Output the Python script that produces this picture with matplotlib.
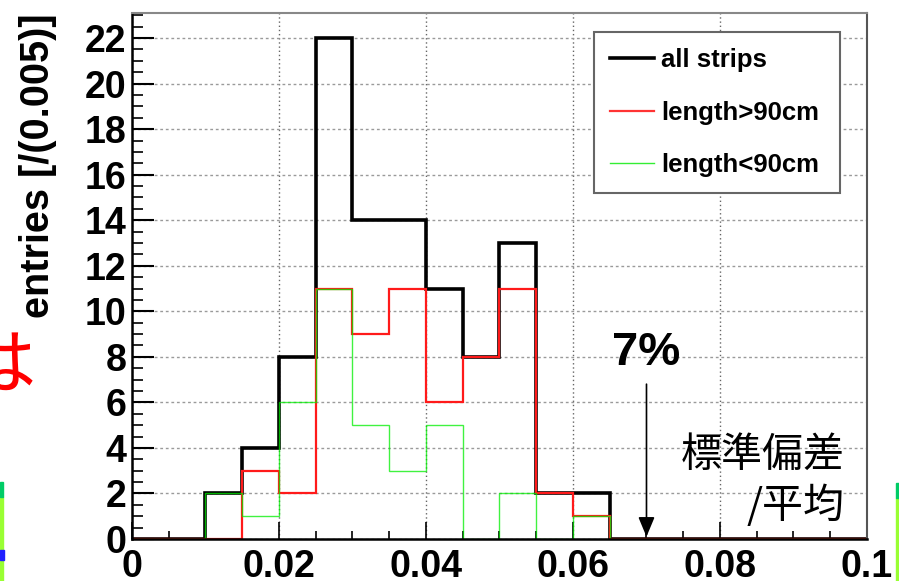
import numpy as np
import matplotlib.pyplot as plt
from matplotlib.lines import Line2D
from matplotlib.patches import Rectangle
from matplotlib.ticker import MultipleLocator

plt.rcParams['font.family'] = ['Liberation Sans', 'Noto Sans CJK JP', 'DejaVu Sans']

#################################################
# Histogram contents (bin width 0.005)
#################################################
edges = np.linspace(0.0, 0.1, 21)
all_strips = [0, 0, 2, 4, 8, 22, 14, 14, 11, 8, 13, 2, 2, 0, 0, 0, 0, 0, 0, 0]
long_strips = [0, 0, 0, 3, 2, 11, 9, 11, 6, 8, 11, 2, 1, 0, 0, 0, 0, 0, 0, 0]
short_strips = [0, 0, 2, 1, 6, 11, 5, 3, 5, 0, 2, 0, 1, 0, 0, 0, 0, 0, 0, 0]

labels = ['all strips', 'length>90cm', 'length<90cm']
xtick_vals = [0, 0.02, 0.04, 0.06, 0.08, 0.1]
xtick_labels = ['0', '0.02', '0.04', '0.06', '0.08', '0.1']
ytick_vals = list(range(0, 23, 2))

# relative spread marked with the arrow
rel_sigma = 0.07

fig = plt.figure(figsize=(8.99, 5.81), dpi=100)
ax = fig.add_axes([0.1468, 0.0723, 0.8176, 0.9053])

ax.stairs(all_strips, edges, color='black', lw=2.6)
ax.stairs(long_strips, edges, color='#ff1a1a', lw=1.6)
ax.stairs(short_strips, edges, color='#00ee00', lw=1.0, alpha=0.75)

ax.set_xlim(0, 0.1)
ax.set_ylim(0, 23.1)
ax.set_xticks(xtick_vals)
ax.set_xticklabels(xtick_labels)
ax.set_yticks(ytick_vals)
ax.xaxis.set_minor_locator(MultipleLocator(0.005))
ax.yaxis.set_minor_locator(MultipleLocator(0.5))

for lab in ax.get_xticklabels() + ax.get_yticklabels():
    lab.set_fontweight('bold')
    lab.set_fontsize(27)

ax.tick_params(axis='x', which='major', direction='in', length=12, width=1.2, pad=7, top=False)
ax.tick_params(axis='x', which='minor', direction='in', length=6, width=1.2, top=False)
ax.tick_params(axis='y', which='major', direction='in', length=16, width=1.5, pad=4, right=False)
ax.tick_params(axis='y', which='minor', direction='in', length=8, width=1.2, right=False)

ax.grid(axis='y', which='major', color='#9a9a9a', linestyle=(0, (2, 2)), lw=1.0)
ax.grid(axis='x', which='major', color='#666666', linestyle=(0, (1, 2)), lw=1.0)
ax.set_axisbelow(True)

ax.spines['left'].set_linewidth(1.8)
ax.spines['bottom'].set_linewidth(1.8)
ax.spines['top'].set_color('#888888')
ax.spines['top'].set_linewidth(1.5)
ax.spines['right'].set_color('#555555')
ax.spines['right'].set_linewidth(1.5)

fig.text(38 / 899, 1 - 13 / 581, 'entries [/(0.005)]', rotation=90, ha='center', va='top',
         fontsize=28.5, fontweight='bold')

handles = [Line2D([], [], color='black', lw=2.6),
           Line2D([], [], color='#ff3333', lw=1.6),
           Line2D([], [], color='#33ee33', lw=1.0)]
leg = ax.legend(handles, labels, loc='upper left', mode='expand',
                bbox_to_anchor=(594 / 899, 1 - 197 / 581, 246 / 899, 165 / 581),
                bbox_transform=fig.transFigure, borderaxespad=0,
                prop={'weight': 'bold', 'size': 18.5}, handlelength=1.7, handletextpad=0.3,
                labelspacing=1.12, borderpad=0.62, fancybox=False, framealpha=1)
leg.get_frame().set_edgecolor('#666666')
leg.get_frame().set_linewidth(1.5)

# arrow and value for the relative spread
ax.annotate('', xy=(rel_sigma, 0.1), xytext=(rel_sigma, 6.8),
            arrowprops=dict(arrowstyle='-|>,head_length=0.6,head_width=0.25', color='black',
                            lw=1.2, mutation_scale=20, shrinkA=0, shrinkB=0))
ax.text(rel_sigma, 7.65, f'{rel_sigma * 100:.0f}%', ha='center', va='baseline',
        fontsize=34, fontweight='bold')

fig.text(845 / 899, 1 - 455 / 581, '標準偏差', ha='right', va='center', fontsize=29.5,
         family=['Noto Sans CJK JP', 'DejaVu Sans'])
fig.text(845 / 899, 1 - 506 / 581, '/平均', ha='right', va='center', fontsize=29.5,
         family=['Noto Sans CJK JP', 'DejaVu Sans'])

# slide remnants around the plot
fig.text(36 / 899, 1 - 368 / 581, 'は', ha='right', va='center', fontsize=52, color='red',
         family=['Noto Sans CJK JP', 'DejaVu Sans'])
fig.patches.append(Rectangle((0, 0), 3 / 899, 84 / 581, transform=fig.transFigure,
                             color='#99ff33', zorder=0))
fig.patches.append(Rectangle((0, 84 / 581), 3 / 899, 15 / 581, transform=fig.transFigure,
                             color='#00cc66', zorder=0))
fig.patches.append(Rectangle((0, 21 / 581), 4 / 899, 10 / 581, transform=fig.transFigure,
                             color='#2020ff', zorder=0))
fig.patches.append(Rectangle((896 / 899, 0), 3 / 899, 83 / 581, transform=fig.transFigure,
                             color='#99ff33', zorder=0))
fig.patches.append(Rectangle((896 / 899, 83 / 581), 3 / 899, 15 / 581, transform=fig.transFigure,
                             color='#00cc66', zorder=0))

plt.savefig('out.png', dpi=100)
